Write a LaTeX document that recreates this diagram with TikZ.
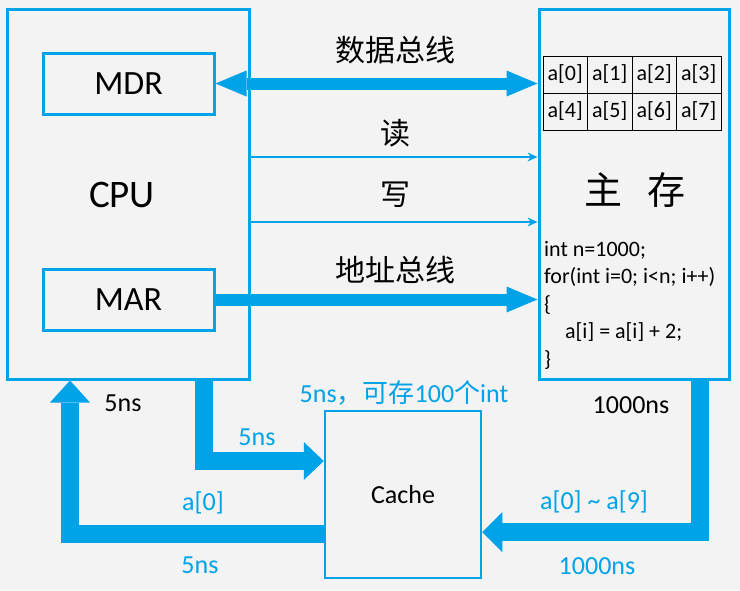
\documentclass[tikz,border=0pt]{standalone}
\usepackage{fontspec}
\setmainfont{Carlito}
\newfontfamily\cjk{Noto Sans CJK SC}
\usetikzlibrary{arrows.meta}
\definecolor{bl}{HTML}{00A2E8}
\definecolor{bg}{HTML}{F3F3F3}
\begin{document}
\begin{tikzpicture}[x=1pt,y=-1pt,
  box/.style={draw=bl,line width=3pt,inner sep=0pt},
  cell/.style={draw=black,line width=0.9pt,minimum width=44.5pt,minimum height=37pt,inner sep=0pt,font=\fontsize{22}{22}\selectfont},
  bar/.style={draw=bl,line width=18pt,line join=miter},
  bus/.style={draw=bl,line width=12pt},
  ctl/.style={draw=bl,line width=2.5pt,-{Stealth[length=10pt,width=9pt,line width=0pt]}},
  lbl/.style={font=\cjk\fontsize{30}{30}\selectfont},
  blk/.style={font=\fontsize{26}{26}\selectfont},
  blu/.style={text=bl,font=\fontsize{26}{26}\selectfont},
  code/.style={anchor=base west,inner sep=0pt,font=\fontsize{22}{22}\selectfont}]
\useasboundingbox (0,0) rectangle (740,590);
\fill[bg] (0,0) rectangle (740,590);
% boxes
\node[box,minimum width=242pt,minimum height=370pt] (cpu) at (128,194) {};
\node[font=\fontsize{39}{39}\selectfont] (cputxt) at (122,195) {CPU};
\node[box,minimum width=171pt,minimum height=61pt,font=\fontsize{34}{34}\selectfont] (mdr) at (128.5,83.5) {MDR};
\node[box,minimum width=171pt,minimum height=61pt,font=\fontsize{34}{34}\selectfont] (mar) at (128.5,299.5) {MAR};
\node[box,minimum width=190pt,minimum height=370pt] (mem) at (634,194) {};
\node[box,line width=2.5pt,minimum width=156pt,minimum height=167pt,font=\fontsize{26}{26}\selectfont] (cache) at (403,494.5) {Cache};
% table
\foreach \i in {0,...,7}{
  \pgfmathsetmacro{\cx}{543+44.5*mod(\i,4)+22.25}
  \pgfmathsetmacro{\cy}{56+37*int(\i/4)+18.5}
  \node[cell] (c\i) at (\cx,\cy) {a[\i]};
}
\node[font=\cjk\fontsize{38}{38}\selectfont] (memtxt) at (635,190) {主\hspace{26pt}存};
\node[code] (k1) at (544,256) {int n=1000;};
\node[code] (k2) at (544,283.5) {for(int i=0; i<n; i++)};
\node[code] (k3) at (544,311) {\{};
\node[code] (k4) at (565,338.5) {a[i] = a[i] + 2;};
\node[code] (k5) at (544,366) {\}};
% buses
\draw[bus,{Triangle[length=31pt,width=26pt,line width=0pt]}-{Triangle[length=31pt,width=26pt,line width=0pt]}] (mdr.east) -- (mdr.east -| mem.west);
\draw[bus,-{Triangle[length=31pt,width=26pt,line width=0pt]}] (mar.east) -- (mar.east -| mem.west);
\draw[ctl] ([yshift=37pt]cpu.east) -- ([yshift=37pt]cpu.east -| mem.west);
\draw[ctl] ([yshift=-28pt]cpu.east) -- ([yshift=-28pt]cpu.east -| mem.west);
\node[lbl] (ldata) at (395,50) {数据总线};
\node[lbl] (lread) at (395,133) {读};
\node[lbl] (lwrite) at (395,195) {写};
\node[lbl] (laddr) at (395,270) {地址总线};
% cache paths
\draw[bar,-{Triangle[length=20pt,width=38pt,line width=0pt]}] ([xshift=76pt]cpu.south) |- ([yshift=33.5pt]cache.west);
\draw[bar,-{Triangle[length=22pt,width=40pt,line width=0pt]}] ([yshift=-39.5pt]cache.west) -| ([xshift=-58pt]cpu.south);
\draw[bar,-{Triangle[length=20pt,width=40pt,line width=0pt]}] ([xshift=66pt]mem.south) |- ([yshift=-37.5pt]cache.east);
% labels
\node[blk] (t1) at (123,403) {5ns};
\node[blu] (t2) at (404,393) {5ns{\cjk ，可存}100{\cjk 个}int};
\node[blk] (t3) at (631,405) {1000ns};
\node[blu] (t4) at (257,437) {5ns};
\node[blu] (t5) at (203,503) {a[0]};
\node[blu] (t6) at (594,502) {a[0] \textasciitilde{} a[9]};
\node[blu] (t7) at (200,565) {5ns};
\node[blu] (t8) at (597,566) {1000ns};
\end{tikzpicture}
\end{document}
